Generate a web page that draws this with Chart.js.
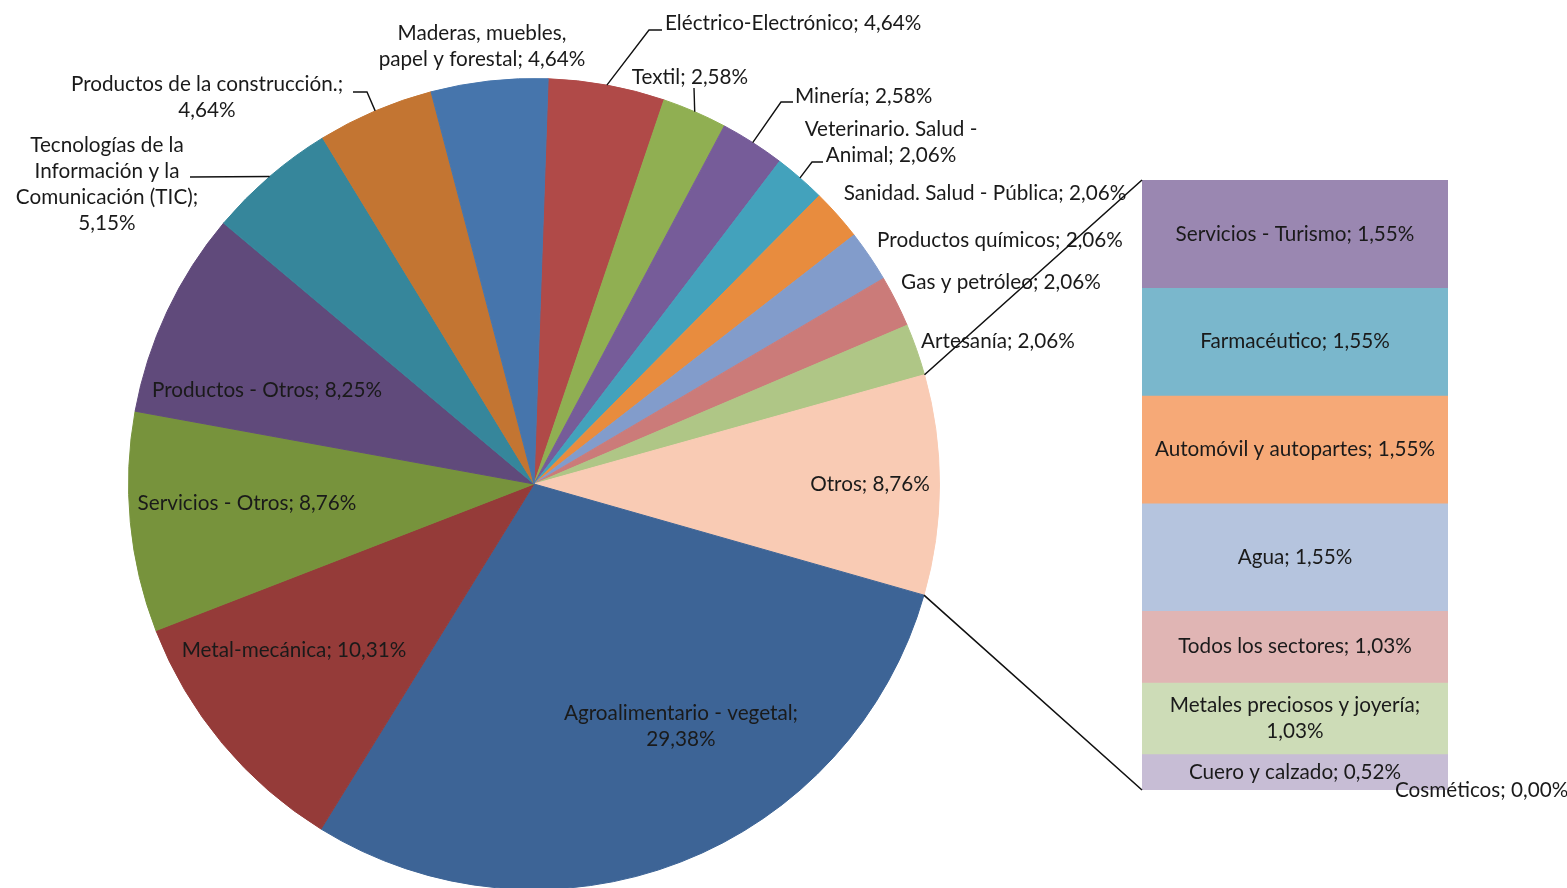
<!DOCTYPE html>
<html>
<head>
<meta charset="utf-8">
<script src="https://cdn.jsdelivr.net/npm/chart.js@4.4.1/dist/chart.umd.min.js"></script>
<style>
  html, body { margin: 0; padding: 0; background: #fff; overflow: hidden; width: 1567px; height: 888px; }
  canvas { position: absolute; left: 0; top: 0; }
</style>
</head>
<body>
<canvas id="pie" width="1567" height="900"></canvas>
<canvas id="bar" width="1567" height="888"></canvas>
<script>
// pie slices, clockwise from 12 o'clock
const pieLabels = [
  "Eléctrico-Electrónico", "Textil", "Minería", "Veterinario. Salud - Animal",
  "Sanidad. Salud - Pública", "Productos químicos", "Gas y petróleo", "Artesanía",
  "Otros", "Agroalimentario - vegetal", "Metal-mecánica", "Servicios - Otros",
  "Productos - Otros", "Tecnologías de la Información y la Comunicación (TIC)",
  "Productos de la construcción.", "Maderas, muebles, papel y forestal"
];
const pieValues = [4.64, 2.58, 2.58, 2.06, 2.06, 2.06, 2.06, 2.06, 8.76, 29.38, 10.31, 8.76, 8.25, 5.15, 4.64, 4.64];

// breakdown of "Otros", top to bottom
const barLabels = [
  "Servicios - Turismo", "Farmacéutico", "Automóvil y autopartes", "Agua",
  "Todos los sectores", "Metales preciosos y joyería", "Cuero y calzado", "Cosméticos"
];
const barValues = [1.55, 1.55, 1.55, 1.55, 1.03, 1.03, 0.52, 0.00];

const pieColors = [
  "#B04A48", "#90AF52", "#765C99", "#43A2BC", "#E88C3E", "#829CCB", "#CB7B79", "#AFC686",
  "#F9CBB4", "#3D6496", "#953B39", "#77933C", "#604A7B", "#36869B", "#C37532", "#4675AC"
];
const barColors = ["#9A87B1", "#7AB7CC", "#F6A977", "#B5C4DE", "#E0B5B4", "#CDDCB7", "#C7BDD5", "#A9BFDF"];

const FONT = "20.7px Lato";
const TEXT = "#1a1a1a";
const LINE_H = 26;
const OTROS = 8;

// label placement: x, y of first line, align, words per line, leader points
const piePlace = [
  { x: 665, y: 23, align: "left", leader: [[649, 30], [662, 30]] },
  { x: 690, y: 77, leader: [[694, 88]] },
  { x: 795, y: 96, align: "left", leader: [[781, 102], [793, 102]] },
  { x: 891, y: 129, wpl: [3, 2], leader: [[812, 162], [823, 162]] },
  { x: 985, y: 193 },
  { x: 1000, y: 240 },
  { x: 1001, y: 282 },
  { x: 998, y: 341 },
  { x: 870, y: 484 },
  { x: 681, y: 713, wpl: [3, 1] },
  { x: 294, y: 650 },
  { x: 247, y: 503 },
  { x: 267, y: 390 },
  { x: 107, y: 145, wpl: [3, 3, 2, 1], leader: [[190, 177]] },
  { x: 207, y: 84, wpl: [4, 1], leader: [[367, 92], [353, 92]] },
  { x: 482, y: 33, wpl: [2, 4] }
];
const barPlace = [{}, {}, {}, {}, {}, { wpl: [4, 1] }, {}, { x: 1395, y: 790, align: "left" }];

function fmt(v) {
  return v.toFixed(2).replace(".", ",") + "%";
}

function splitLines(text, wpl) {
  if (!wpl) return [text];
  const words = text.split(" ");
  const lines = [];
  let i = 0;
  wpl.forEach(n => {
    lines.push(words.slice(i, i + n).join(" "));
    i += n;
  });
  return lines;
}

function drawLabel(ctx, text, x, y, p) {
  const lines = splitLines(text, p.wpl);
  ctx.textAlign = p.align || "center";
  lines.forEach((l, i) => ctx.fillText(l, x, y + i * LINE_H));
}

const pieLabelPlugin = {
  id: "pieLabels",
  afterDatasetsDraw(chart) {
    const ctx = chart.ctx;
    const arcs = chart.getDatasetMeta(0).data;
    ctx.save();
    ctx.font = FONT;
    ctx.fillStyle = TEXT;
    ctx.textBaseline = "middle";
    ctx.strokeStyle = "#111";
    ctx.lineWidth = 1.4;
    arcs.forEach((arc, i) => {
      const p = piePlace[i];
      if (p.leader) {
        const mid = (arc.startAngle + arc.endAngle) / 2;
        ctx.beginPath();
        ctx.moveTo(arc.x + Math.cos(mid) * arc.outerRadius, arc.y + Math.sin(mid) * arc.outerRadius);
        p.leader.forEach(q => ctx.lineTo(q[0], q[1]));
        ctx.stroke();
      }
      drawLabel(ctx, pieLabels[i] + "; " + fmt(pieValues[i]), p.x, p.y, p);
    });
    ctx.restore();
  }
};

const pieChart = new Chart(document.getElementById("pie"), {
  type: "pie",
  data: {
    labels: pieLabels,
    datasets: [{
      data: pieValues,
      backgroundColor: pieColors,
      borderColor: pieColors,
      borderWidth: 1,
      hoverOffset: 0,
      hoverBorderWidth: 1
    }]
  },
  options: {
    responsive: false,
    animation: false,
    events: [],
    rotation: 2,
    layout: { padding: { left: 128, right: 627, top: 78, bottom: 10 } },
    plugins: { legend: { display: false }, tooltip: { enabled: false } }
  },
  plugins: [pieLabelPlugin]
});

const barLabelPlugin = {
  id: "barLabels",
  afterDraw(chart) {
    const ctx = chart.ctx;
    const area = chart.chartArea;
    ctx.save();

    // connector lines from the "Otros" slice to the bar
    const arc = pieChart.getDatasetMeta(0).data[OTROS];
    ctx.strokeStyle = "#111";
    ctx.lineWidth = 1.6;
    ctx.beginPath();
    ctx.moveTo(arc.x + Math.cos(arc.startAngle) * arc.outerRadius, arc.y + Math.sin(arc.startAngle) * arc.outerRadius);
    ctx.lineTo(area.left, area.top);
    ctx.moveTo(arc.x + Math.cos(arc.endAngle) * arc.outerRadius, arc.y + Math.sin(arc.endAngle) * arc.outerRadius);
    ctx.lineTo(area.left, area.bottom);
    ctx.stroke();

    ctx.font = FONT;
    ctx.fillStyle = TEXT;
    ctx.textBaseline = "middle";
    barLabels.forEach((lab, i) => {
      const el = chart.getDatasetMeta(i).data[0];
      const p = barPlace[i];
      const lines = splitLines(lab, p.wpl).length;
      const x = p.x !== undefined ? p.x : el.x;
      const y = p.y !== undefined ? p.y : (el.y + el.base) / 2 - (lines - 1) * LINE_H / 2;
      drawLabel(ctx, lab + "; " + fmt(barValues[i]), x, y, p);
    });
    ctx.restore();
  }
};

const barTotal = barValues.reduce((a, b) => a + b, 0);

new Chart(document.getElementById("bar"), {
  type: "bar",
  data: {
    labels: [""],
    datasets: barLabels.map((lab, i) => ({
      label: lab,
      data: [barValues[i]],
      backgroundColor: barColors[i],
      borderWidth: 0,
      barPercentage: 1,
      categoryPercentage: 1
    }))
  },
  options: {
    responsive: false,
    animation: false,
    events: [],
    layout: { padding: { left: 1142, right: 119, top: 180, bottom: 98 } },
    scales: {
      x: { display: false, stacked: true },
      y: { display: false, stacked: true, reverse: true, min: 0, max: barTotal }
    },
    plugins: { legend: { display: false }, tooltip: { enabled: false } }
  },
  plugins: [barLabelPlugin]
});
</script>
</body>
</html>
